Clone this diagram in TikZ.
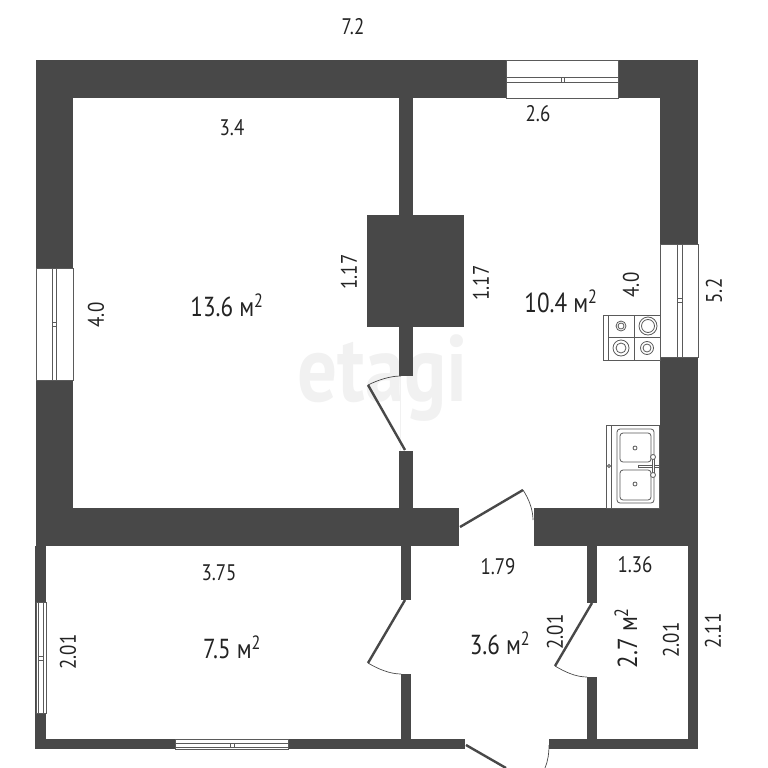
\documentclass[tikz,border=0pt]{standalone}
\usepackage{fontspec}
\setmainfont[FakeStretch=0.84]{PT Sans}
\usepackage{xcolor}
\usepackage{tikz}
\definecolor{wallgray}{RGB}{72, 72, 72}
\definecolor{framegray}{RGB}{90, 90, 90}
\definecolor{labelink}{RGB}{35, 35, 35}
\definecolor{markgray}{RGB}{241, 241, 241}

\begin{document}
\begin{tikzpicture}[
		x=1pt, y=-1pt,
		wall/.style={fill=wallgray, draw=none},
		winframe/.style={fill=white, draw=framegray, line width=0.8pt},
		winpane/.style={fill=white, draw=framegray, line width=0.8pt},
		doorleaf/.style={draw=wallgray, line width=2.4pt},
		doorarc/.style={draw=wallgray, line width=0.7pt},
		fixture/.style={draw=framegray, line width=0.8pt},
		dim/.style={text=labelink, font=\fontsize{22.5}{22.5}\selectfont, inner sep=0pt},
		area/.style={text=labelink, font=\fontsize{27.5}{27.5}\selectfont, inner sep=0pt}
	]
	\useasboundingbox (0,0) rectangle (768,768);

	\node (mark) [text=markgray, font=\fontsize{94}{94}\bfseries\selectfont, inner sep=0pt] at (383,378) {etagi};
	\draw[draw=markgray, line width=0.5pt] (400,376) -- (400,451);

	\fill[wall] (36,60) rectangle (698,98);
	\fill[wall] (36,60) rectangle (73,546);
	\fill[wall] (660,60) rectangle (698,546);
	\fill[wall] (36,508) rectangle (459,546);
	\fill[wall] (534,508) rectangle (698,546);
	\fill[wall] (399,98) rectangle (413,376);
	\fill[wall] (367,215) rectangle (464,327);
	\fill[wall] (399,451) rectangle (413,508);
	\fill[wall] (35,546) rectangle (46,749);
	\fill[wall] (688,546) rectangle (698,749);
	\fill[wall] (35,739) rectangle (465,749);
	\fill[wall] (549,739) rectangle (698,749);
	\fill[wall] (401,546) rectangle (411,600);
	\fill[wall] (401,674) rectangle (411,749);
	\fill[wall] (587,546) rectangle (597,603);
	\fill[wall] (587,677) rectangle (597,749);

	\draw[winframe] (506,60) rectangle (618,98);
	\draw[winpane] (506,77) rectangle (618,82);
	\draw[winpane] (561,77) rectangle (564,82);
	\draw[winframe] (36,268) rectangle (73,380);
	\draw[winpane] (52,268) rectangle (56,380);
	\draw[winpane] (52,322) rectangle (56,326);
	\draw[winframe] (660,244) rectangle (698,357);
	\draw[winpane] (677,244) rectangle (682,357);
	\draw[winpane] (677,298) rectangle (682,302);
	\draw[winframe] (36,602) rectangle (46,713);
	\draw[winpane] (38,602) rectangle (43,713);
	\draw[winpane] (38,656) rectangle (43,660);
	\draw[winframe] (175,739) rectangle (288,749);
	\draw[winpane] (175,743) rectangle (288,747);
	\draw[winpane] (230,743) rectangle (234,747);

	\draw[doorleaf] (405,450) -- (368,385);
	\draw[doorarc] (368,385) .. controls (378,380) and (390,376) .. (401,376);
	\draw[doorleaf] (460,527) -- (523,490);
	\draw[doorarc] (523,490) .. controls (529,499) and (533,510) .. (533,520);
	\draw[doorleaf] (405,600) -- (368,663);
	\draw[doorarc] (368,663) .. controls (378,669) and (390,674) .. (401,674);
	\draw[doorleaf] (592,603) -- (555,666);
	\draw[doorarc] (555,666) .. controls (565,672) and (576,677) .. (587,677);
	\draw[doorleaf] (466,745) -- (506,768);
	\draw[doorarc] (549,745) .. controls (549,753) and (548,761) .. (545,768);

	\draw[fixture, fill=white] (603,315) rectangle (660,360);
	\draw[fixture] (608,315) -- (608,360);
	\draw[fixture] (634,315) -- (634,360);
	\draw[fixture] (608,337) -- (660,337);
	\draw[fixture] (621,326) circle (5);
	\draw[fixture] (621,326) circle (3);
	\draw[fixture] (648,326) circle (9);
	\draw[fixture] (648,326) circle (6.5);
	\draw[fixture] (621,348) circle (8);
	\draw[fixture] (621,348) circle (5);
	\draw[fixture] (647,348) circle (6.5);
	\draw[fixture] (647,348) circle (4);

	\draw[fixture, fill=white] (606,425) rectangle (659,508);
	\draw[fixture] (611,425) -- (611,508);
	\draw[fixture, rounded corners=3pt] (617,429) rectangle (654,503);
	\draw[fixture, rounded corners=3pt] (620,433) rectangle (651,462);
	\draw[fixture, rounded corners=3pt] (620,470) rectangle (651,500);
	\draw[fixture] (635,448) circle (2);
	\draw[fixture] (635,484) circle (2);
	\draw[fixture, fill=white] (638,465) rectangle (659,467);
	\draw[fixture, fill=white] (652,457) rectangle (654,475);
	\draw[fixture, fill=white] (653,457) circle (2.5);
	\draw[fixture, fill=white] (653,475) circle (2.5);
	\draw[fixture, fill=white] (609,466) circle (1.5);

	\node (widthtotal) [dim] at (353,27) {7.2};
	\node (widthroom) [dim] at (232,128) {3.4};
	\node (widthkitchen) [dim] at (538,114) {2.6};
	\node (arearoom) [area] at (227,305) {13.6 м\textsuperscript{2}};
	\node (areakitchen) [area] at (561,301) {10.4 м\textsuperscript{2}};
	\node (fluewest) [dim, rotate=90] at (349,272) {1.17};
	\node (flueeast) [dim, rotate=90] at (481,283) {1.17};
	\node (heightroom) [dim, rotate=90] at (96,315) {4.0};
	\node (heightkitchen) [dim, rotate=90] at (631,285) {4.0};
	\node (heighttop) [dim, rotate=90] at (714,291) {5.2};
	\node (widthbed) [dim] at (219,573) {3.75};
	\node (areabed) [area] at (232,647) {7.5 м\textsuperscript{2}};
	\node (heightbed) [dim, rotate=90] at (68,652) {2.01};
	\node (widthhall) [dim] at (498,567) {1.79};
	\node (areahall) [area] at (500,643) {3.6 м\textsuperscript{2}};
	\node (heighthall) [dim, rotate=90] at (555,632) {2.01};
	\node (widthbath) [dim] at (635,565) {1.36};
	\node (areabath) [area, rotate=90] at (626,638) {2.7 м\textsuperscript{2}};
	\node (heightbath) [dim, rotate=90] at (671,640) {2.01};
	\node (heightlow) [dim, rotate=90] at (713,631) {2.11};
\end{tikzpicture}
\end{document}
